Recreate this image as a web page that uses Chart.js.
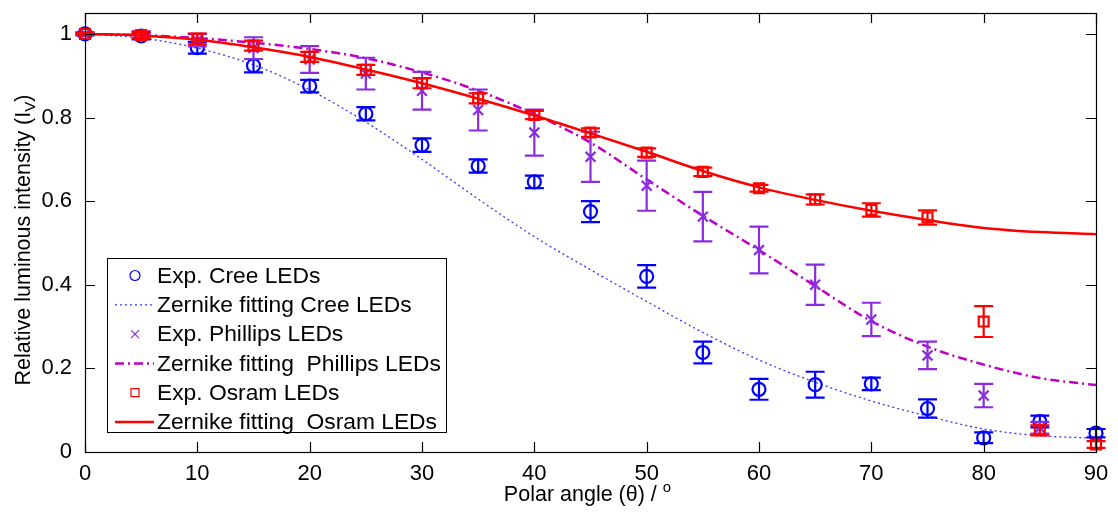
<!DOCTYPE html>
<html>
<head>
<meta charset="utf-8">
<script src="https://cdn.jsdelivr.net/npm/chart.js@4.4.1/dist/chart.umd.min.js"></script>
<style>
html,body{margin:0;padding:0;background:#fff;}
#wrap{width:1118px;height:515px;position:relative;}
</style>
</head>
<body>
<div id="wrap"><canvas id="c" width="1118" height="515"></canvas></div>
<script>
// ---- data ----
const angles = [0,5,10,15,20,25,30,35,40,45,50,55,60,65,70,75,80,85,90];
const xTickValues = [0,10,20,30,40,50,60,70,80,90];
const yTickValues = [0,0.2,0.4,0.6,0.8,1];

const creeExp = [1.000,0.995,0.967,0.924,0.875,0.809,0.734,0.684,0.646,0.575,0.420,0.238,0.150,0.161,0.163,0.104,0.034,0.073,0.045];
const creeErr = [0.003,0.008,0.014,0.016,0.015,0.016,0.016,0.016,0.015,0.025,0.027,0.026,0.025,0.031,0.015,0.022,0.013,0.014,0.010];
const creeFit = [1.000,0.990,0.966,0.926,0.866,0.789,0.700,0.605,0.515,0.436,0.360,0.286,0.220,0.167,0.122,0.086,0.055,0.039,0.033];

const phillipsExp = [1.000,0.998,0.985,0.966,0.939,0.905,0.864,0.818,0.764,0.706,0.637,0.563,0.483,0.400,0.317,0.231,0.135,0.058,null];
const phillipsErr = [0.003,0.008,0.015,0.026,0.032,0.038,0.045,0.049,0.055,0.060,0.060,0.059,0.056,0.048,0.040,0.033,0.028,0.014,null];
const phillipsFit = [1.000,0.997,0.990,0.979,0.964,0.942,0.908,0.864,0.808,0.740,0.652,0.565,0.483,0.397,0.313,0.252,0.209,0.177,0.160];

const osramExp = [1.000,0.997,0.988,0.972,0.945,0.914,0.882,0.846,0.806,0.764,0.716,0.670,0.631,0.604,0.579,0.561,0.312,0.052,0.018];
const osramErr = [0.003,0.008,0.013,0.012,0.012,0.012,0.012,0.012,0.010,0.010,0.010,0.010,0.008,0.012,0.016,0.017,0.037,0.012,0.008];
const osramFit = [1.000,0.996,0.986,0.968,0.945,0.915,0.882,0.845,0.805,0.762,0.718,0.672,0.633,0.603,0.577,0.555,0.536,0.526,0.521];

const seriesLabels = ['Exp. Cree LEDs','Zernike fitting Cree LEDs','Exp. Phillips LEDs','Zernike fitting  Phillips LEDs','Exp. Osram LEDs','Zernike fitting  Osram LEDs'];

// ---- styling ----
const FONT = '"Liberation Sans", Arial, Helvetica, sans-serif';
const BLUE = '#0000ff', BLUE_FIT = '#3535ff', PURPLE = '#8a2be2', MAGENTA = '#bf00bf', RED = '#ff0000';

function pts(vals){ const out=[]; angles.forEach((a,i)=>{ if(vals[i]!=null) out.push({x:a,y:vals[i]}); }); return out; }
function errs(vals, e){ const out=[]; angles.forEach((a,i)=>{ if(vals[i]!=null) out.push(e[i]); }); return out; }

const datasets = [
  {label:seriesLabels[4], data:pts(osramExp), errors:errs(osramExp,osramErr), showLine:false, pointStyle:'rect', pointRadius:7, borderColor:RED, backgroundColor:'rgba(0,0,0,0)', pointBorderWidth:2.2, order:1, clip:false, errColor:RED},
  {label:seriesLabels[5], data:pts(osramFit), showLine:true, pointRadius:0, borderColor:RED, borderWidth:2.5, cubicInterpolationMode:'monotone', order:2, clip:false},
  {label:seriesLabels[2], data:pts(phillipsExp), errors:errs(phillipsExp,phillipsErr), showLine:false, pointStyle:'crossRot', pointRadius:7, borderColor:PURPLE, backgroundColor:PURPLE, pointBorderWidth:2.2, order:3, clip:false, errColor:PURPLE},
  {label:seriesLabels[3], data:pts(phillipsFit), showLine:true, pointRadius:0, borderColor:MAGENTA, borderWidth:2.5, borderDash:[9,4,2,4], cubicInterpolationMode:'monotone', order:4, clip:false},
  {label:seriesLabels[0], data:pts(creeExp), errors:errs(creeExp,creeErr), showLine:false, pointStyle:'circle', pointRadius:6.5, borderColor:BLUE, backgroundColor:'rgba(0,0,0,0)', pointBorderWidth:2.2, order:5, clip:false, errColor:BLUE},
  {label:seriesLabels[1], data:pts(creeFit), showLine:true, pointRadius:0, borderColor:BLUE_FIT, borderWidth:1.3, borderDash:[2,3], cubicInterpolationMode:'monotone', order:6, clip:false}
];

const errorBarPlugin = {
  id:'errorBars',
  beforeDatasetDraw(chart, args){
    const ds = chart.data.datasets[args.index];
    if(!ds.errors) return;
    const ctx = chart.ctx, xs = chart.scales.x, ys = chart.scales.y;
    ctx.save();
    ctx.strokeStyle = ds.errColor; ctx.lineWidth = 2.2;
    const cap = 9.5;
    ds.data.forEach((p,i)=>{
      const e = ds.errors[i];
      const px = xs.getPixelForValue(p.x);
      const yt = ys.getPixelForValue(p.y + e), yb = ys.getPixelForValue(p.y - e);
      ctx.beginPath();
      ctx.moveTo(px, yt); ctx.lineTo(px, yb);
      ctx.moveTo(px-cap, yt); ctx.lineTo(px+cap, yt);
      ctx.moveTo(px-cap, yb); ctx.lineTo(px+cap, yb);
      ctx.stroke();
    });
    ctx.restore();
  }
};

const framePlugin = {
  id:'frame',
  afterDatasetsDraw(chart){
    const ctx = chart.ctx, a = chart.chartArea, xs = chart.scales.x, ys = chart.scales.y;
    ctx.save();
    ctx.strokeStyle = '#000'; ctx.lineWidth = 1.2;
    ctx.strokeRect(Math.round(a.left)+0.5, Math.round(a.top)+0.5, Math.round(a.right-a.left), Math.round(a.bottom-a.top));
    ctx.beginPath();
    const tl = 10;
    xTickValues.forEach(v=>{
      const px = Math.round(xs.getPixelForValue(v))+0.5;
      ctx.moveTo(px, a.bottom); ctx.lineTo(px, a.bottom - tl);
      ctx.moveTo(px, a.top); ctx.lineTo(px, a.top + tl);
    });
    yTickValues.forEach(v=>{
      const py = Math.round(ys.getPixelForValue(v))+0.5;
      ctx.moveTo(a.left, py); ctx.lineTo(a.left + tl, py);
      ctx.moveTo(a.right, py); ctx.lineTo(a.right - tl, py);
    });
    ctx.stroke();
    ctx.restore();
  },
  afterDraw(chart){
    const ctx = chart.ctx, a = chart.chartArea;
    ctx.save();
    ctx.fillStyle = '#000';
    // x axis title with superscript
    const fs = 21.5;
    const xMain = 'Polar angle (\u03b8) / ', xSup = 'o';
    ctx.font = fs + 'px ' + FONT;
    const w1 = ctx.measureText(xMain).width;
    ctx.font = Math.round(fs*0.7) + 'px ' + FONT;
    const w2 = ctx.measureText(xSup).width;
    let sx = (a.left + a.right)/2 - (w1+w2)/2 - 3;
    ctx.textBaseline = 'alphabetic'; ctx.textAlign = 'left';
    ctx.font = fs + 'px ' + FONT;
    ctx.fillText(xMain, sx, 501);
    ctx.font = Math.round(fs*0.7) + 'px ' + FONT;
    ctx.fillText(xSup, sx + w1, 492);
    // y axis title with subscript
    const yMain = 'Relative luminous intensity (I', ySub = 'V', yEnd = ')';
    ctx.font = fs + 'px ' + FONT;
    const m1 = ctx.measureText(yMain).width, m3 = ctx.measureText(yEnd).width;
    ctx.font = Math.round(fs*0.7) + 'px ' + FONT;
    const m2 = ctx.measureText(ySub).width;
    const tot = m1+m2+m3;
    ctx.translate(30, 240);
    ctx.rotate(-Math.PI/2);
    let t = -tot/2;
    ctx.font = fs + 'px ' + FONT;
    ctx.fillText(yMain, t, 0); t += m1;
    ctx.font = Math.round(fs*0.7) + 'px ' + FONT;
    ctx.fillText(ySub, t, 5); t += m2;
    ctx.font = fs + 'px ' + FONT;
    ctx.fillText(yEnd, t, 0);
    ctx.restore();

    // legend
    ctx.save();
    const L = 107.5, T = 258.5, R = 446.5, B = 432.5;
    ctx.fillStyle = '#fff'; ctx.fillRect(L, T, R-L, B-T);
    ctx.strokeStyle = '#000'; ctx.lineWidth = 1; ctx.strokeRect(L, T, R-L, B-T);
    const rows = [
      {type:'circle', color:BLUE},
      {type:'line', color:BLUE_FIT, dash:[2,3], w:1.3},
      {type:'x', color:PURPLE},
      {type:'line', color:MAGENTA, dash:[9,4,2,4], w:2.5},
      {type:'square', color:RED},
      {type:'line', color:RED, dash:[], w:2.5}
    ];
    const lfs = 22.8;
    ctx.font = lfs + 'px ' + FONT;
    ctx.textBaseline = 'middle'; ctx.textAlign = 'left';
    rows.forEach((r,i)=>{
      const cy = 275.5 + i*29.3;
      ctx.strokeStyle = r.color; ctx.lineWidth = 1.2; ctx.setLineDash([]);
      ctx.beginPath();
      if(r.type==='circle'){ ctx.arc(135, cy, 5, 0, Math.PI*2); }
      else if(r.type==='x'){ ctx.moveTo(131,cy-4); ctx.lineTo(139,cy+4); ctx.moveTo(131,cy+4); ctx.lineTo(139,cy-4); }
      else if(r.type==='square'){ ctx.rect(131, cy-4, 8, 8); }
      else { ctx.lineWidth = r.w; ctx.setLineDash(r.dash); ctx.moveTo(115, cy); ctx.lineTo(154, cy); }
      ctx.stroke();
      ctx.setLineDash([]);
      ctx.fillStyle = '#000';
      ctx.fillText(seriesLabels[i], 157, cy + 1);
    });
    ctx.restore();
  }
};

new Chart(document.getElementById('c'), {
  type:'line',
  data:{ datasets },
  options:{
    responsive:false,
    animation:false,
    devicePixelRatio:1,
    events:[],
    layout:{ padding:{left:0,right:22,top:13,bottom:0}, autoPadding:false },
    plugins:{ legend:{display:false}, tooltip:{enabled:false} },
    scales:{
      x:{
        type:'linear', min:0, max:90,
        afterBuildTicks: s => { s.ticks = xTickValues.map(v=>({value:v})); },
        afterFit: s => { s.height = 63; s.paddingLeft = 0; s.paddingRight = 0; },
        grid:{display:false}, border:{display:false},
        ticks:{ font:{family:FONT, size:22}, color:'#000', padding:1, maxRotation:0, autoSkip:false, callback: v => String(v) }
      },
      y:{
        type:'linear', min:0, max:1.05,
        afterBuildTicks: s => { s.ticks = yTickValues.map(v=>({value:v})); },
        afterFit: s => { s.width = 85; s.paddingTop = 0; s.paddingBottom = 0; },
        grid:{display:false}, border:{display:false},
        ticks:{ font:{family:FONT, size:22}, color:'#000', padding:5, autoSkip:false, callback: v => String(Math.round(v*10)/10) }
      }
    }
  },
  plugins:[errorBarPlugin, framePlugin]
});
</script>
</body>
</html>
